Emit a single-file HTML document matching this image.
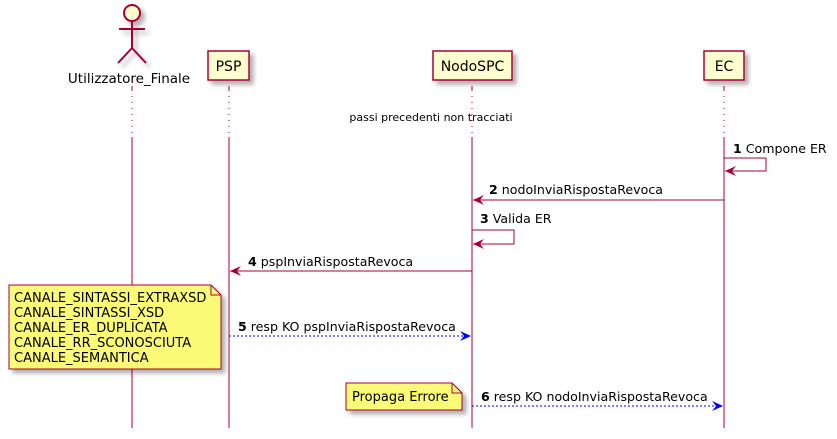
<!DOCTYPE html>
<html><head><meta charset="utf-8"><style>body{margin:0;background:#fff}svg{display:block;font-family:"DejaVu Sans","Liberation Sans",sans-serif}</style></head><body>
<svg width="837" height="439" viewBox="0 0 837 439" xmlns="http://www.w3.org/2000/svg">
<defs><filter id="s" x="-20%" y="-20%" width="150%" height="150%"><feDropShadow dx="4" dy="4" stdDeviation="2" flood-color="#000" flood-opacity="0.3"/></filter></defs>
<g stroke="#A80036" stroke-width="1">
<line x1="132" y1="86" x2="132" y2="90"/><line x1="132" y1="90" x2="132" y2="137" stroke-dasharray="1,5"/><line x1="132" y1="137" x2="132" y2="428"/>
<line x1="229" y1="86" x2="229" y2="90"/><line x1="229" y1="90" x2="229" y2="137" stroke-dasharray="1,5"/><line x1="229" y1="137" x2="229" y2="428"/>
<line x1="472" y1="86" x2="472" y2="90"/><line x1="472" y1="90" x2="472" y2="137" stroke-dasharray="1,5"/><line x1="472" y1="137" x2="472" y2="428"/>
<line x1="724" y1="86" x2="724" y2="90"/><line x1="724" y1="90" x2="724" y2="137" stroke-dasharray="1,5"/><line x1="724" y1="137" x2="724" y2="428"/>
</g>
<g filter="url(#s)" stroke="#A80036" stroke-width="2" fill="#FEFECE">
<circle cx="132" cy="13" r="8"/>
<path d="M132 21V48M119 29H145M132 48L118 63M132 48L146 63" fill="none"/>
<rect x="208" y="51" width="41" height="29" stroke-width="1.5"/>
<rect x="433" y="51" width="79" height="29" stroke-width="1.5"/>
<rect x="704" y="51" width="40" height="29" stroke-width="1.5"/>
</g>
<g font-size="14" fill="#000" text-anchor="middle">
<text x="129" y="83" font-size="13.5">Utilizzatore_Finale</text>
<text x="228.5" y="71">PSP</text>
<text x="472.5" y="71">NodoSPC</text>
<text x="724" y="71">EC</text>
</g>
<text x="431" y="121" font-size="11" text-anchor="middle">passi precedenti non tracciati</text>
<g stroke="#A80036" fill="none">
<path d="M724 158H766V171H725"/>
<path d="M472 230H514V244H473"/>
<line x1="724" y1="200" x2="473" y2="200"/>
<line x1="472" y1="271" x2="230" y2="271"/>
</g>
<g fill="#A80036">
<path d="M725 171l11-5-4 5 4 5z"/>
<path d="M473 244l11-5-4 5 4 5z"/>
<path d="M473 200l11-5-4 5 4 5z"/>
<path d="M230 271l11-5-4 5 4 5z"/>
</g>
<g stroke="#0000FF" fill="none" stroke-dasharray="2,2">
<line x1="229" y1="336" x2="470" y2="336"/>
<line x1="472" y1="406" x2="722" y2="406"/>
</g>
<g fill="#0000FF">
<path d="M471 336l-11-5 4 5-4 5z"/>
<path d="M723 406l-11-5 4 5-4 5z"/>
</g>
<g font-size="12.6" fill="#000">
<text x="733" y="153"><tspan font-weight="bold">1</tspan> Compone ER</text>
<text x="489" y="194"><tspan font-weight="bold">2</tspan> nodoInviaRispostaRevoca</text>
<text x="480" y="223"><tspan font-weight="bold">3</tspan> Valida ER</text>
<text x="248" y="266"><tspan font-weight="bold">4</tspan> pspInviaRispostaRevoca</text>
<text x="238" y="331"><tspan font-weight="bold">5</tspan> resp KO pspInviaRispostaRevoca</text>
<text x="481" y="401"><tspan font-weight="bold">6</tspan> resp KO nodoInviaRispostaRevoca</text>
</g>
<g filter="url(#s)" stroke="#A80036" fill="#FBFB77">
<path d="M9 285H211L221 295V369H9Z"/>
<path d="M346 383H452L462 393V410H346Z"/>
</g>
<g stroke="#A80036" fill="none"><path d="M211 285V295H221M452 383V393H462"/></g>
<g font-size="13" fill="#000">
<text x="14" y="302">CANALE_SINTASSI_EXTRAXSD</text>
<text x="14" y="317">CANALE_SINTASSI_XSD</text>
<text x="14" y="332">CANALE_ER_DUPLICATA</text>
<text x="14" y="347">CANALE_RR_SCONOSCIUTA</text>
<text x="14" y="362">CANALE_SEMANTICA</text>
<text x="352" y="401">Propaga Errore</text>
</g>
</svg>
</body></html>
